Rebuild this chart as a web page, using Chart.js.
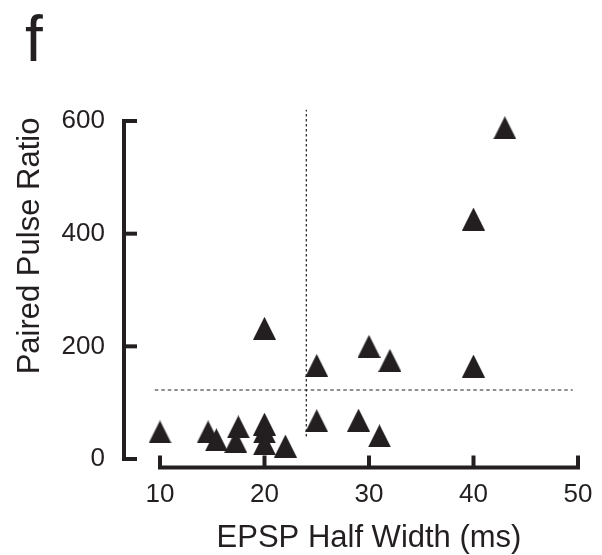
<!DOCTYPE html>
<html>
<head>
<meta charset="utf-8">
<script src="https://cdn.jsdelivr.net/npm/chart.js@4/dist/chart.umd.min.js"></script>
<style>
  body { margin: 0; background: #fff; }
</style>
</head>
<body>
<canvas id="ppr" width="602" height="555"></canvas>
<script>
// EPSP half width (ms) vs paired pulse ratio
const halfWidth = [10, 14.6, 15.4, 17.5, 17.25, 20, 20, 20, 22, 25, 29, 31, 20, 25, 30, 32, 40, 40, 43];
const pulseRatio = [48, 48, 34, 57, 31, 62, 48, 27, 23, 68, 69, 41, 232, 166, 200, 175, 165, 426, 588];

const xTicks = [10, 20, 30, 40, 50];
const yTicks = [0, 200, 400, 600];

// dotted threshold lines
const cutX = 24;
const cutY = 122.5;
const cutXRange = [40, 620];
const cutYRange = [9.5, 49.5];

const ink = '#231f20';
const font = 'Liberation Sans, Arial, sans-serif';

// solid triangle marker
const tri = document.createElement('canvas');
tri.width = 23;
tri.height = 23;
const tctx = tri.getContext('2d');
tctx.fillStyle = ink;
tctx.beginPath();
tctx.moveTo(11.5, 0);
tctx.lineTo(23, 23);
tctx.lineTo(0, 23);
tctx.closePath();
tctx.fill();

const axesPlugin = {
    id: 'bracketAxes',
    afterDraw(chart) {
        const ctx = chart.ctx;
        const xs = chart.scales.x, ys = chart.scales.y;
        const area = chart.chartArea;
        ctx.save();
        ctx.strokeStyle = ink;
        ctx.lineWidth = 4;
        ctx.lineJoin = 'miter';

        // y axis, set off to the left of the plot
        const ax = area.left - 36;
        const yTop = ys.getPixelForValue(yTicks[yTicks.length - 1]);
        const yBot = ys.getPixelForValue(yTicks[0]);
        ctx.beginPath();
        ctx.moveTo(ax + 13, yTop);
        ctx.lineTo(ax, yTop);
        ctx.lineTo(ax, yBot);
        ctx.lineTo(ax + 13, yBot);
        ctx.stroke();
        yTicks.slice(1, -1).forEach(v => {
            const py = ys.getPixelForValue(v);
            ctx.beginPath();
            ctx.moveTo(ax, py);
            ctx.lineTo(ax + 13, py);
            ctx.stroke();
        });

        // x axis, set off below the plot
        const ay = area.bottom + 8.5;
        const xL = xs.getPixelForValue(xTicks[0]);
        const xR = xs.getPixelForValue(xTicks[xTicks.length - 1]);
        ctx.beginPath();
        ctx.moveTo(xL, ay - 12);
        ctx.lineTo(xL, ay);
        ctx.lineTo(xR, ay);
        ctx.lineTo(xR, ay - 12);
        ctx.stroke();
        xTicks.slice(1, -1).forEach(v => {
            const px = xs.getPixelForValue(v);
            ctx.beginPath();
            ctx.moveTo(px, ay);
            ctx.lineTo(px, ay - 12);
            ctx.stroke();
        });

        // titles
        ctx.fillStyle = ink;
        ctx.font = '31px ' + font;
        ctx.textAlign = 'center';
        ctx.textBaseline = 'alphabetic';
        ctx.fillText('EPSP Half Width (ms)', (area.left + area.right) / 2, 547);

        ctx.save();
        ctx.translate(38.5, 246);
        ctx.rotate(-Math.PI / 2);
        ctx.font = '31px ' + font;
        ctx.fillText('Paired Pulse Ratio', 0, 0);
        ctx.restore();

        ctx.font = '64px ' + font;
        ctx.textAlign = 'left';
        ctx.fillText('f', 25, 61);
        ctx.restore();
    }
};

new Chart(document.getElementById('ppr'), {
    type: 'scatter',
    data: {
        datasets: [{
            data: halfWidth.map((x, i) => ({ x, y: pulseRatio[i] })),
            pointStyle: tri,
            pointRadius: 11.5,
            clip: false
        }, {
            type: 'line',
            data: cutYRange.map(x => ({ x, y: cutY })),
            borderColor: ink,
            borderWidth: 1.2,
            borderDash: [3.5, 3],
            pointRadius: 0,
            clip: false
        }, {
            type: 'line',
            data: cutXRange.map(y => ({ x: cutX, y })),
            borderColor: ink,
            borderWidth: 1.2,
            borderDash: [2.5, 2.5],
            pointRadius: 0,
            clip: false
        }]
    },
    options: {
        responsive: false,
        animation: false,
        events: [],
        layout: { padding: { left: 0, right: 24, top: 121, bottom: 0 } },
        plugins: { legend: { display: false }, tooltip: { enabled: false } },
        scales: {
            x: {
                type: 'linear',
                min: 10,
                max: 50,
                afterFit(scale) {
                    scale.height = 96;
                    scale.paddingLeft = 0;
                    scale.paddingRight = 0;
                },
                grid: { display: false, drawTicks: false },
                border: { display: false },
                ticks: { stepSize: 10, padding: 20, color: ink, font: { family: font, size: 26 } }
            },
            y: {
                type: 'linear',
                min: 0,
                max: 600,
                afterFit(scale) {
                    scale.width = 160;
                    scale.paddingTop = 0;
                    scale.paddingBottom = 0;
                },
                grid: { display: false, drawTicks: false },
                border: { display: false },
                ticks: { stepSize: 200, padding: 55, color: ink, font: { family: font, size: 26 } }
            }
        }
    },
    plugins: [axesPlugin]
});
</script>
</body>
</html>
